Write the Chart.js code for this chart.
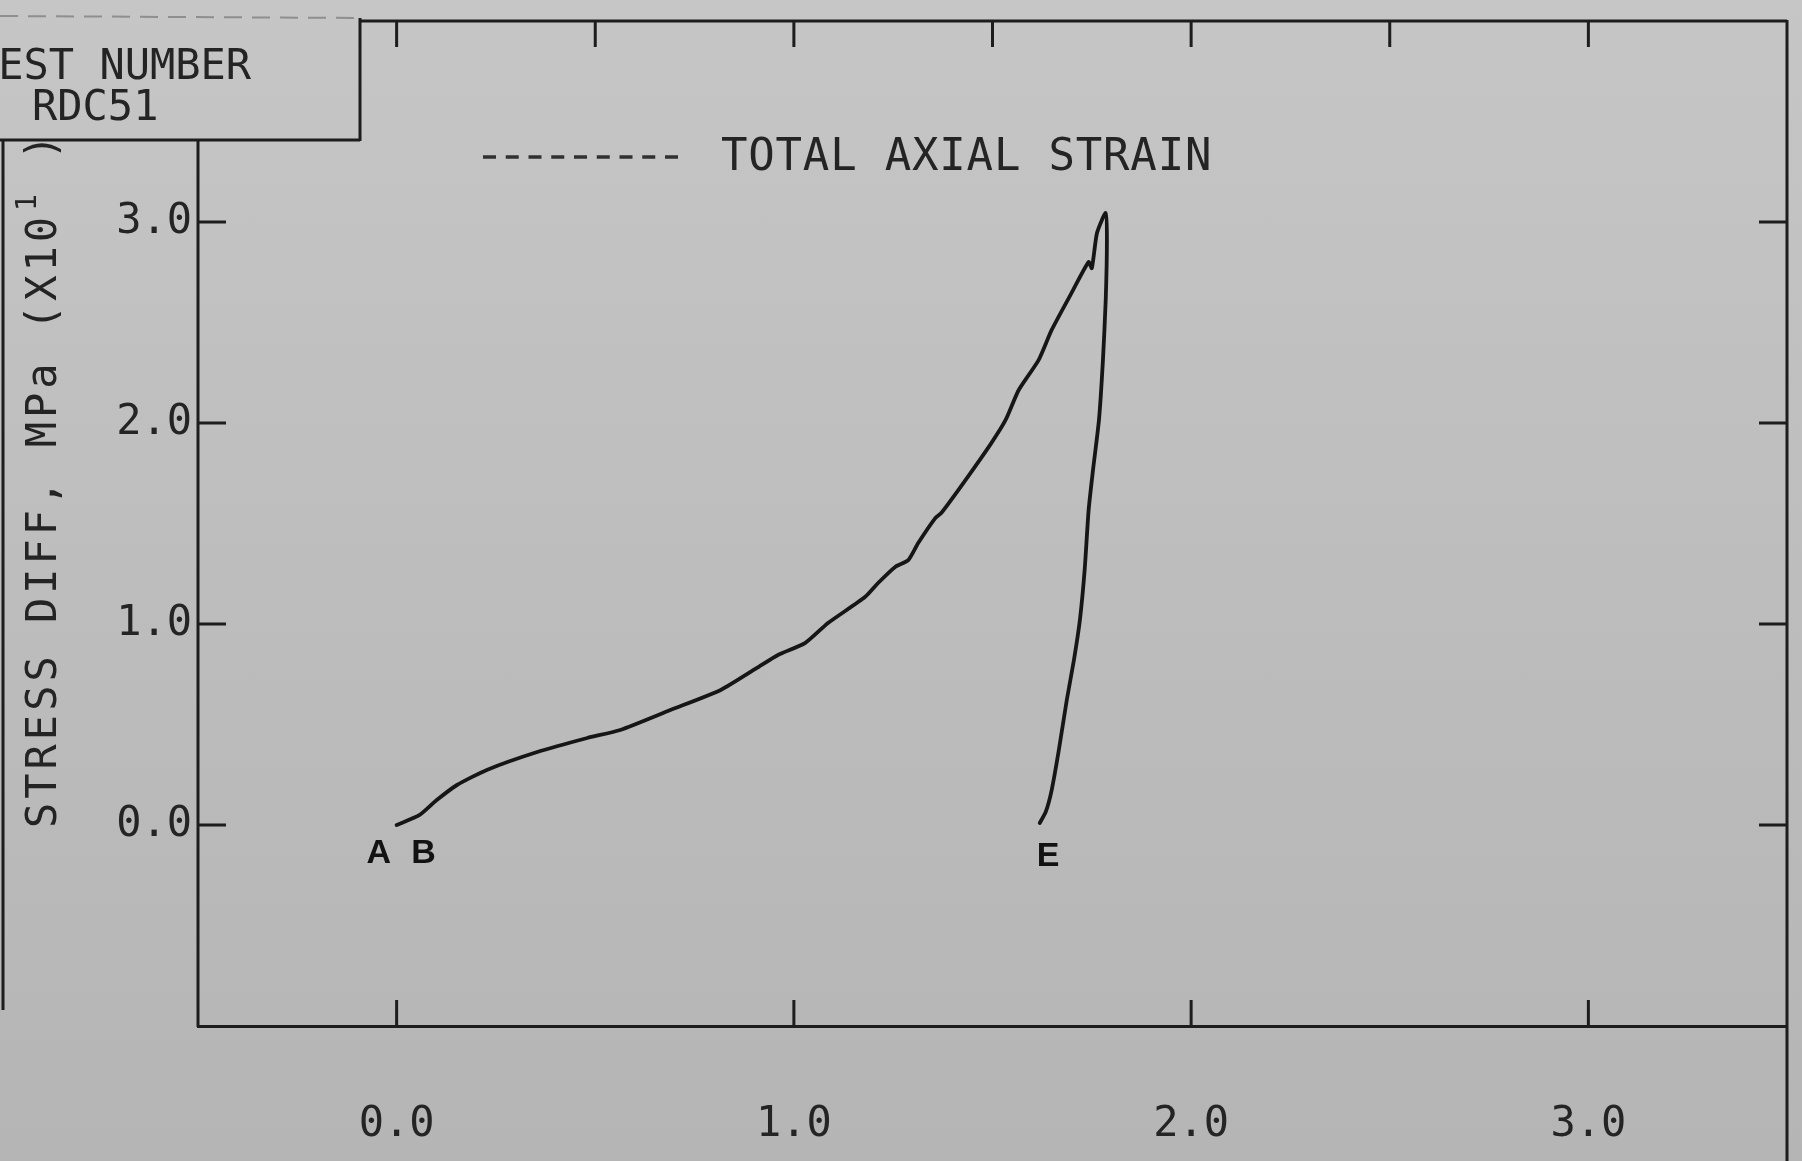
<!DOCTYPE html>
<html>
<head>
<meta charset="utf-8">
<script src="https://cdn.jsdelivr.net/npm/chart.js@4.4.1/dist/chart.umd.min.js"></script>
<style>
  html, body { margin: 0; padding: 0; }
  body {
    width: 1802px; height: 1161px; overflow: hidden;
    background: linear-gradient(180deg, #c6c6c6 0%, #bdbdbd 50%, #b5b5b5 100%);
  }
  canvas { display: block; }
</style>
</head>
<body>
<canvas id="chart" width="1802" height="1161"></canvas>
<script>
// total axial strain (%) vs stress difference (MPa x10), A -> peak -> E
const strain = [
  0, 0.058, 0.101, 0.152, 0.227, 0.354, 0.480, 0.563, 0.689, 0.816,
  0.906, 0.960, 1.028, 1.086, 1.179, 1.212, 1.255, 1.288, 1.313, 1.356,
  1.371, 1.432, 1.497, 1.533, 1.566, 1.616, 1.649, 1.699, 1.742, 1.750,
  1.763, 1.785,
  1.788, 1.785, 1.778, 1.768, 1.753, 1.742, 1.732, 1.720, 1.705, 1.687,
  1.667, 1.649, 1.634, 1.619
];
const stressDiff = [
  0, 0.050, 0.124, 0.199, 0.274, 0.363, 0.433, 0.473, 0.572, 0.672,
  0.780, 0.846, 0.905, 1.005, 1.134, 1.204, 1.284, 1.318, 1.403, 1.527,
  1.552, 1.716, 1.900, 2.015, 2.164, 2.313, 2.463, 2.647, 2.801, 2.770,
  2.945, 3.045,
  2.910, 2.612, 2.313, 2.015, 1.766, 1.567, 1.269, 1.020, 0.821, 0.622,
  0.373, 0.174, 0.065, 0.010
];

const xTickVals = [0, 1, 2, 3];
const yTickVals = [0, 1, 2, 3];
const topTickVals = [0, 0.5, 1, 1.5, 2, 2.5, 3];

// letters written next to the curve, in data units
const pointLabels = [
  { text: "A", x: -0.045, y: -0.14 },
  { text: "B", x: 0.068, y: -0.14 },
  { text: "E", x: 1.64, y: -0.155 }
];

const INK = "#1d1d1d";
const TEXT = "#242424";
const MONO = "'DejaVu Sans Mono', 'Liberation Mono', monospace";
const BOX = { right: 360, top: 16, bottom: 140 };

function line(ctx, x1, y1, x2, y2) {
  ctx.beginPath();
  ctx.moveTo(x1, y1);
  ctx.lineTo(x2, y2);
  ctx.stroke();
}

// plotter frame: inward ticks on every side, the test-number box, legend text
const plotterFrame = {
  id: "plotterFrame",
  afterDraw(chart) {
    const { ctx, chartArea: ca } = chart;
    const xs = chart.scales.x, ys = chart.scales.y;
    ctx.save();
    ctx.strokeStyle = INK;
    ctx.lineWidth = 3;

    // y axis (starts under the box), top and right frame lines
    line(ctx, ca.left, BOX.bottom, ca.left, ca.bottom + 1);
    line(ctx, BOX.right, ca.top, ca.right, ca.top);
    line(ctx, ca.right, ca.top - 1, ca.right, chart.height);
    line(ctx, 3, BOX.bottom, 3, 1010);

    yTickVals.forEach(v => {
      const py = ys.getPixelForValue(v);
      line(ctx, ca.left, py, ca.left + 28, py);
      line(ctx, ca.right, py, ca.right - 28, py);
    });
    xTickVals.forEach(v => {
      const px = xs.getPixelForValue(v);
      line(ctx, px, ca.bottom, px, ca.bottom - 26);
    });
    topTickVals.forEach(v => {
      const px = xs.getPixelForValue(v);
      line(ctx, px, ca.top, px, ca.top + 26);
    });

    // test number box
    line(ctx, 0, BOX.bottom, BOX.right, BOX.bottom);
    line(ctx, BOX.right, BOX.top + 2, BOX.right, BOX.bottom + 1);
    ctx.save();
    ctx.strokeStyle = "rgba(40,40,40,0.35)";
    ctx.lineWidth = 2;
    ctx.setLineDash([18, 10]);
    line(ctx, 0, BOX.top, BOX.right, BOX.top + 2);
    ctx.restore();

    ctx.fillStyle = TEXT;
    ctx.font = "42px " + MONO;
    ctx.textBaseline = "middle";
    ctx.textAlign = "left";
    ctx.fillText("TEST NUMBER", -27, 68);
    ctx.fillText("RDC51", 32, 109);

    // legend: dashed sample + label
    ctx.save();
    ctx.setLineDash([13, 9.75]);
    ctx.lineWidth = 3.5;
    ctx.strokeStyle = "#303030";
    line(ctx, 483, 157, 679, 157);
    ctx.restore();
    ctx.save();
    if ("letterSpacing" in ctx) ctx.letterSpacing = "0.8px";
    ctx.font = "44px " + MONO;
    ctx.fillText("TOTAL AXIAL STRAIN", 721, 159);
    ctx.restore();

    // y axis title, rotated, with superscript exponent
    ctx.save();
    ctx.translate(56, 828);
    ctx.rotate(-Math.PI / 2);
    if ("letterSpacing" in ctx) ctx.letterSpacing = "4px";
    ctx.textBaseline = "alphabetic";
    ctx.font = "42px " + MONO;
    const main = "STRESS DIFF, MPa (X10";
    ctx.fillText(main, 0, 0);
    let w = ctx.measureText(main).width;
    ctx.font = "28px " + MONO;
    ctx.fillText("1", w + 2, -20);
    ctx.font = "42px " + MONO;
    ctx.fillText(" )", w + 24, 0);
    ctx.restore();

    // A, B, E markers
    ctx.font = "bold 34px 'Liberation Sans', Arial, sans-serif";
    ctx.fillStyle = "#121212";
    ctx.textAlign = "center";
    ctx.textBaseline = "middle";
    pointLabels.forEach(p => {
      ctx.fillText(p.text, xs.getPixelForValue(p.x), ys.getPixelForValue(p.y));
    });
    ctx.restore();
  }
};

const points = strain.map((v, i) => ({ x: v, y: stressDiff[i] }));

new Chart(document.getElementById("chart"), {
  type: "scatter",
  data: {
    datasets: [{
      label: "TOTAL AXIAL STRAIN",
      data: points,
      showLine: true,
      borderColor: "#161616",
      borderWidth: 3.8,
      pointRadius: 0,
      tension: 0.2,
      fill: false,
      borderJoinStyle: "round",
      borderCapStyle: "round"
    }]
  },
  options: {
    responsive: false,
    animation: false,
    devicePixelRatio: 1,
    layout: { padding: { top: 21, right: 15, left: 0, bottom: 0 } },
    plugins: { legend: { display: false }, tooltip: { enabled: false } },
    scales: {
      x: {
        type: "linear",
        min: -0.5,
        max: 3.5,
        afterBuildTicks: s => { s.ticks = xTickVals.map(v => ({ value: v })); },
        afterFit: s => {
          s.height = 135;
          s.paddingLeft = 0; s.paddingRight = 0;
        },
        grid: { display: false, drawTicks: false },
        border: { display: true, color: INK, width: 3 },
        ticks: {
          padding: 74,
          color: TEXT,
          autoSkip: false,
          maxRotation: 0,
          font: { family: MONO, size: 42 },
          callback: v => Number(v).toFixed(1)
        }
      },
      y: {
        type: "linear",
        min: -1,
        max: 4,
        afterBuildTicks: s => { s.ticks = yTickVals.map(v => ({ value: v })); },
        afterFit: s => {
          s.width = 198;
          s.paddingTop = 0; s.paddingBottom = 0;
        },
        grid: { display: false, drawTicks: false },
        border: { display: false },
        ticks: {
          padding: 6,
          color: TEXT,
          font: { family: MONO, size: 42 },
          callback: v => Number(v).toFixed(1)
        }
      }
    }
  },
  plugins: [plotterFrame]
});
</script>
</body>
</html>
